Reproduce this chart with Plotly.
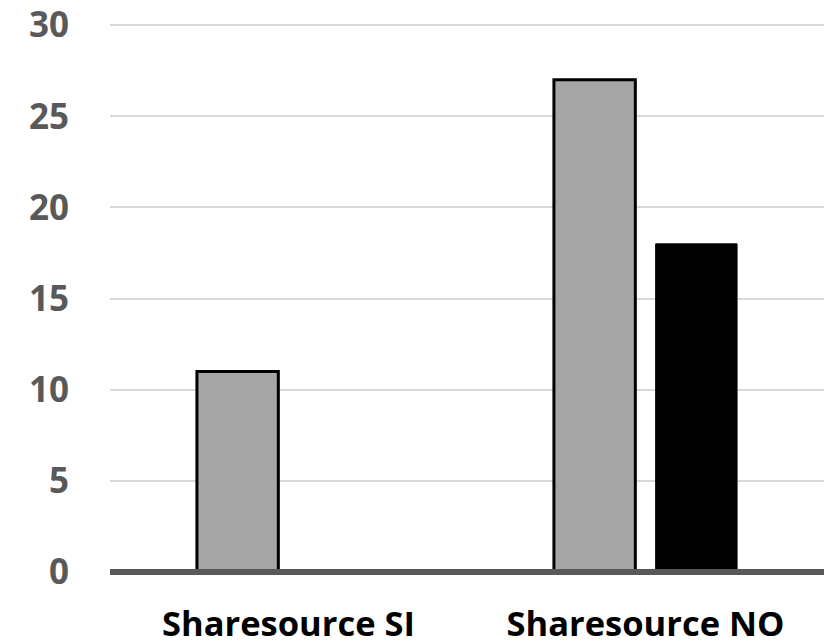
import plotly.graph_objects as go

categories = ["Sharesource SI", "Sharesource NO"]
series_grey = [11, 27]
series_black = [0, 18]
y_ticks = [0, 5, 10, 15, 20, 25, 30]

fig = go.Figure()
fig.add_trace(go.Bar(
    x=categories, y=series_grey, name="Grey",
    marker=dict(color="#a6a6a6", line=dict(color="#000000", width=3)),
))
fig.add_trace(go.Bar(
    x=categories, y=series_black, name="Black",
    marker=dict(color="#000000", line=dict(color="#000000", width=1)),
))

# heavy baseline along y = 0 (paper coords so it is not clipped)
fig.add_shape(type="line", xref="paper", yref="paper", x0=0, x1=1, y0=0, y1=0,
              line=dict(color="#595959", width=6), layer="above")

fig.update_layout(
    width=833, height=644,
    margin=dict(l=110, r=9, t=16, b=72, autoexpand=False),
    paper_bgcolor="white", plot_bgcolor="white",
    barmode="group", bargap=0.43, bargroupgap=0.2,
    showlegend=False,
    font=dict(family="Open Sans", size=30, color="#000000"),
    xaxis=dict(
        showgrid=False, showline=False, zeroline=False, ticks="",
        automargin=False, ticklabeloverflow="allow",
        tickfont=dict(family="Open Sans", size=34.5, color="#000000", weight="bold"),
        ticklabelstandoff=28,
    ),
    yaxis=dict(
        range=[0, 30.5], tickvals=y_ticks, ticktext=[str(v) for v in y_ticks],
        showgrid=True, gridcolor="#d9d9d9", gridwidth=2,
        zeroline=False, showline=False, ticks="",
        automargin=False, ticklabeloverflow="allow",
        tickfont=dict(family="Open Sans", size=35, color="#595959", weight="bold"),
        ticklabelstandoff=40,
    ),
)

fig.write_html("out.html")
